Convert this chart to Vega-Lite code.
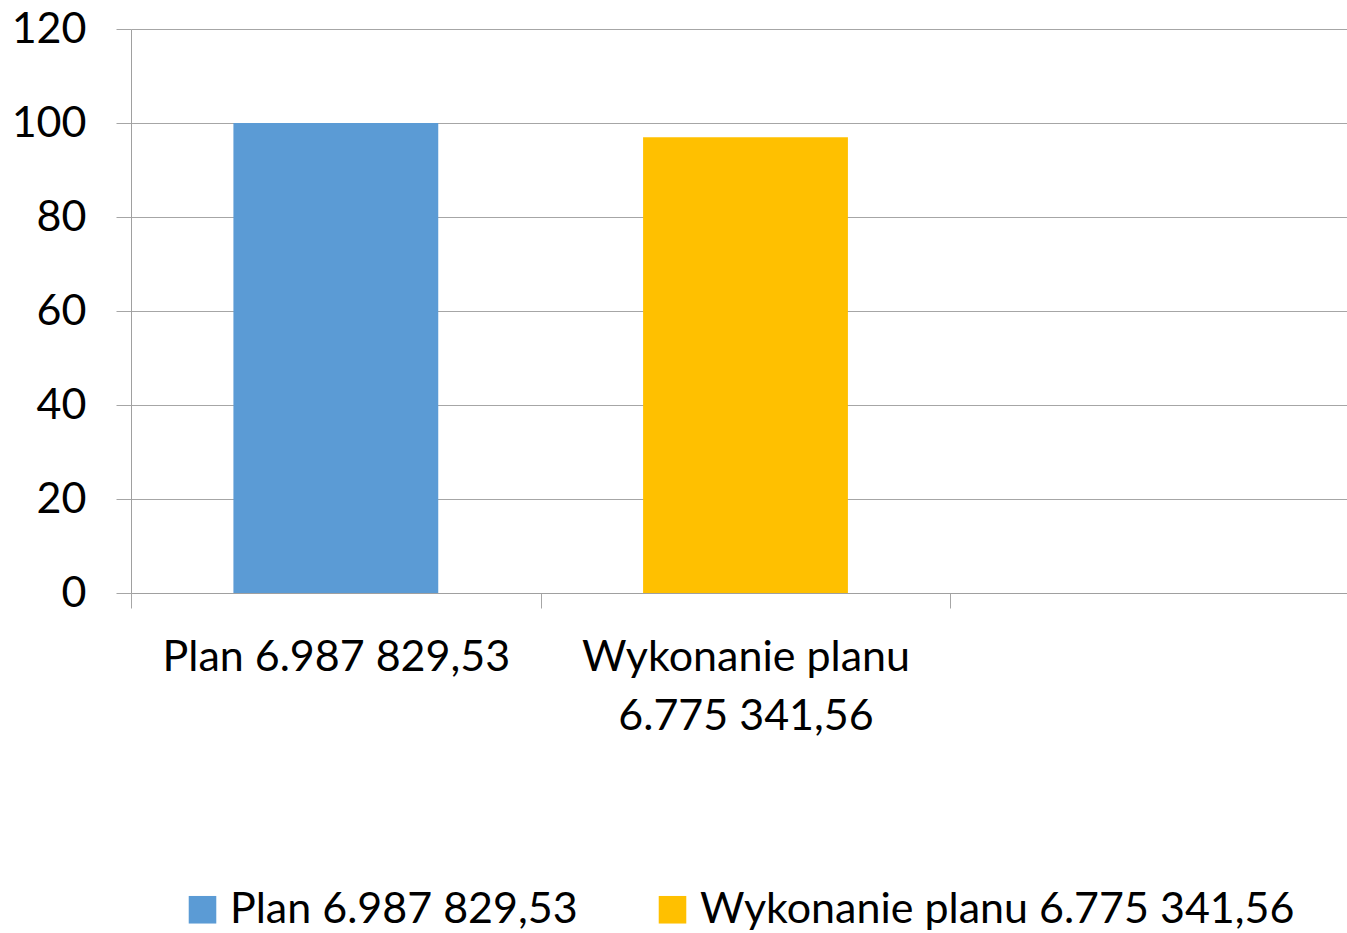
{
  "$schema": "https://vega.github.io/schema/vega-lite/v6.json",
  "width": 1216,
  "height": 564,
  "autosize": {"type": "none"},
  "padding": {"left": 131, "top": 29, "right": 0, "bottom": 340},
  "background": "white",
  "config": {
    "view": {"stroke": null},
    "font": "Lato"
  },
  "data": {
    "values": [
      {"kategoria": "Plan 6.987 829,53", "wartosc": 100},
      {"kategoria": "Wykonanie planu 6.775 341,56", "wartosc": 96.96}
    ]
  },
  "mark": {"type": "bar", "width": {"band": 0.5}},
  "encoding": {
    "x": {
      "field": "kategoria",
      "type": "nominal",
      "title": null,
      "sort": null,
      "scale": {
        "domain": ["Plan 6.987 829,53", "Wykonanie planu 6.775 341,56", "zz"],
        "range": [0, 1229],
        "paddingInner": 0,
        "paddingOuter": 0
      },
      "axis": {
        "labelAngle": 0,
        "tickBand": "extent",
        "tickSize": 15,
        "tickColor": "#A6A6A6",
        "domainColor": "#A0A0A0",
        "labelFont": "Lato",
        "labelFontSize": 43,
        "labelColor": "#000000",
        "labelBaseline": "alphabetic",
        "labelPadding": 62,
        "labelLineHeight": 59,
        "labelLimit": 0,
        "labelOverlap": false,
        "labelExpr": "datum.value == 'Wykonanie planu 6.775 341,56' ? ['Wykonanie planu', '6.775 341,56'] : (datum.value == 'zz' ? '' : datum.value)"
      }
    },
    "y": {
      "field": "wartosc",
      "type": "quantitative",
      "title": null,
      "scale": {"domain": [0, 120], "nice": false},
      "axis": {
        "values": [0, 20, 40, 60, 80, 100, 120],
        "tickSize": 15,
        "tickColor": "#A6A6A6",
        "domainColor": "#A0A0A0",
        "gridColor": "#A6A6A6",
        "grid": true,
        "labelFont": "Lato",
        "labelFontSize": 43,
        "labelColor": "#000000",
        "labelPadding": 30,
        "labelBaseline": "middle"
      }
    },
    "color": {
      "field": "kategoria",
      "type": "nominal",
      "sort": null,
      "scale": {"range": ["#5B9BD5", "#FFC000"]},
      "legend": {
        "title": null,
        "orient": "none",
        "direction": "horizontal",
        "legendX": 50,
        "legendY": 859,
        "padding": 0,
        "symbolType": "square",
        "symbolSize": 760,
        "symbolStrokeWidth": 0,
        "symbolOpacity": 1,
        "labelFont": "Lato",
        "labelFontSize": 43,
        "labelColor": "#000000",
        "labelOffset": 6,
        "labelLimit": 0,
        "columnPadding": 73
      }
    }
  }
}
